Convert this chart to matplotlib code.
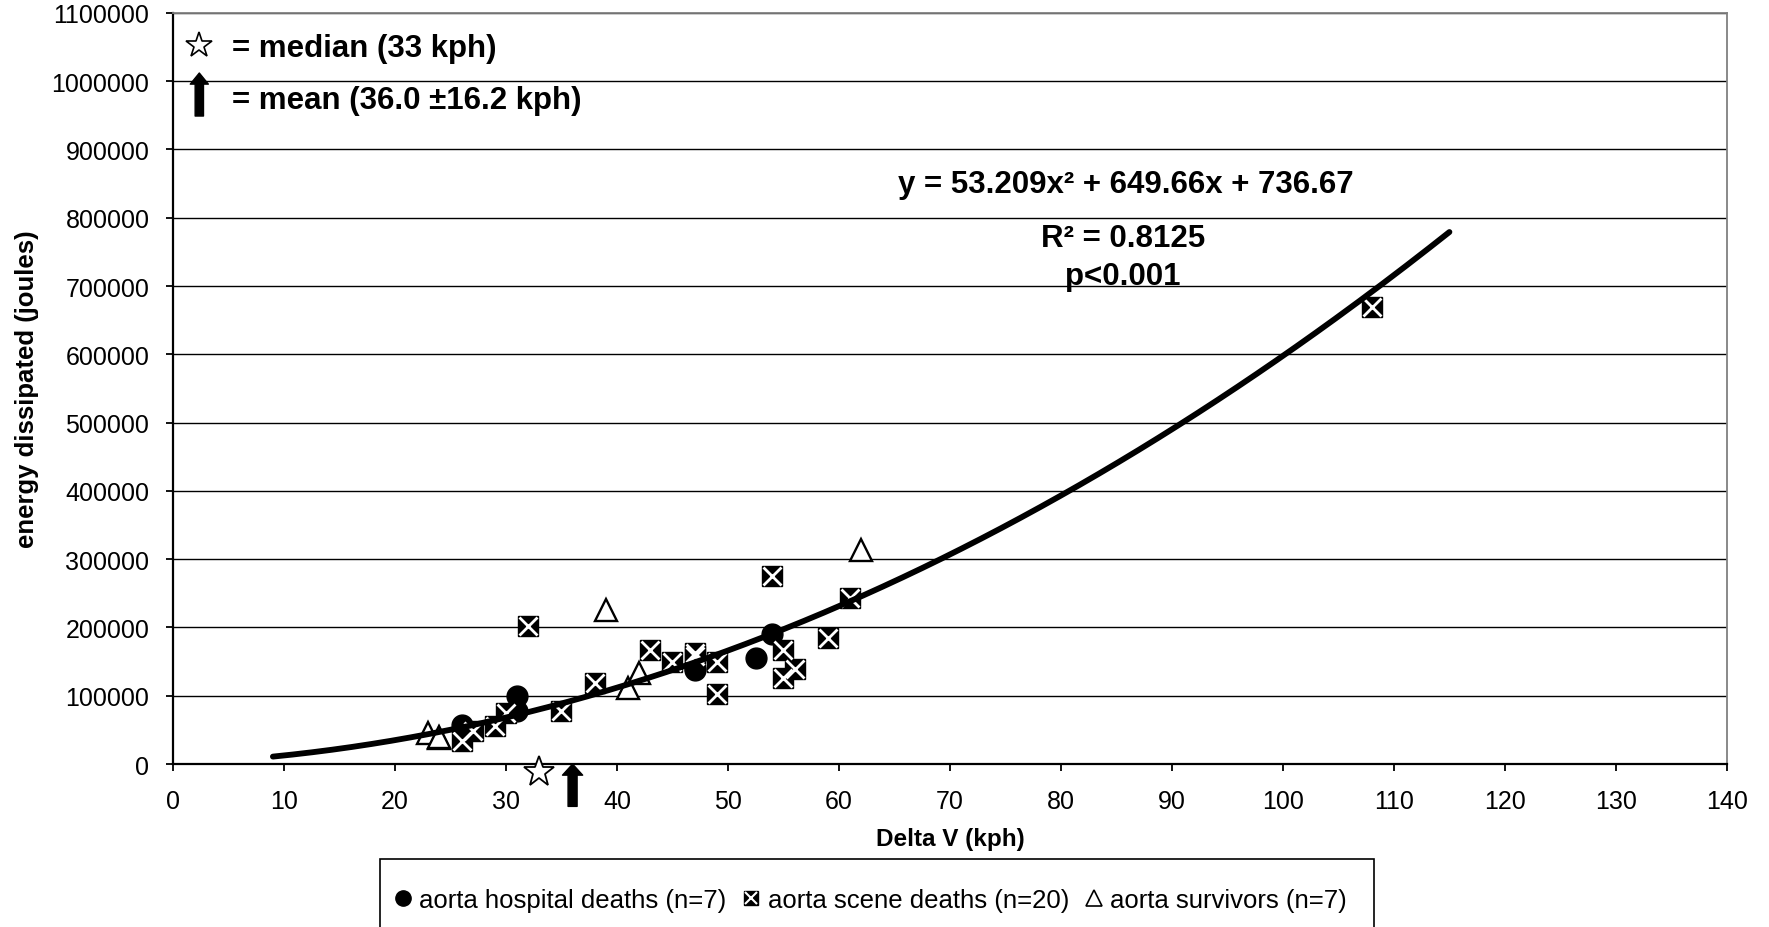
import numpy as np
import matplotlib
matplotlib.use("Agg")
import matplotlib.pyplot as plt
from matplotlib.lines import Line2D
from matplotlib.patches import Rectangle
from matplotlib.legend_handler import HandlerTuple

plt.rcParams['font.family'] = ['Liberation Sans', 'DejaVu Sans']

# --- data ---
hosp_x = [26, 31, 31, 47, 47, 52.5, 54]
hosp_y = [57000, 100000, 78000, 138000, 141000, 155000, 190000]

scene_x = [26, 27, 29, 30, 32, 35, 38, 43, 45, 47, 47, 49, 49, 54, 55, 55, 56, 59, 61, 108]
scene_y = [34000, 48000, 55000, 75000, 202000, 78000, 118000, 167000, 149000, 162000,
           158000, 149000, 102000, 276000, 167000, 126000, 139000, 185000, 243000, 670000]

surv_x = [23, 24, 24, 39, 41, 42, 62]
surv_y = [45000, 38000, 40000, 226000, 111000, 133000, 314000]

# trend line as printed on the chart
fit_coef = [53.209, 649.66, 736.67]
fit_range = (9, 115)

median_kph = 33
mean_kph = 36.0
mean_sd = 16.2

x_ticks = list(range(0, 141, 10))
y_ticks = list(range(0, 1100001, 100000))

legend_labels = ['aorta hospital deaths (n=7)', 'aorta scene deaths (n=20)', 'aorta survivors (n=7)']

fig = plt.figure(figsize=(17.69, 9.28), dpi=100)
ax = fig.add_axes([0.0978, 0.1756, 0.8784, 0.8094])

ax.set_xlim(0, 140)
ax.set_ylim(0, 1100000)
ax.set_xticks(x_ticks)
ax.set_yticks(y_ticks)
ax.set_yticklabels([str(v) for v in y_ticks])
ax.tick_params(axis='both', labelsize=18, direction='out', length=5, width=1.3, colors='black')
ax.tick_params(axis='y', pad=12)
ax.tick_params(axis='x', pad=13)

ax.set_axisbelow(True)
ax.yaxis.grid(True, color='black', linewidth=1.0)
ax.spines['left'].set_linewidth(1.6)
ax.spines['bottom'].set_linewidth(1.6)
ax.spines['top'].set_color('#808080')
ax.spines['right'].set_color('#808080')
ax.spines['top'].set_linewidth(1.3)
ax.spines['right'].set_linewidth(1.3)

# points
ax.plot(hosp_x, hosp_y, 'o', color='black', markersize=15, zorder=3)
ax.plot(scene_x, scene_y, 's', markerfacecolor='black', markeredgecolor='black',
        markersize=14, markeredgewidth=1, zorder=3)
ax.plot(scene_x, scene_y, 'x', color='white', markersize=12.5, markeredgewidth=2, zorder=3)
ax.plot(surv_x, surv_y, '^', markerfacecolor='white', markeredgecolor='black',
        markersize=16, markeredgewidth=1.7, zorder=3)

# quadratic trend line
xf = np.linspace(fit_range[0], fit_range[1], 300)
ax.plot(xf, np.polyval(fit_coef, xf), color='black', linewidth=4.2,
        solid_capstyle='round', zorder=5)

ax.text(85.8, 849000, 'y = 53.209x² + 649.66x + 736.67', ha='center', va='center',
        fontsize=22.5, fontweight='bold')
ax.text(85.6, 771000, 'R² = 0.8125', ha='center', va='center', fontsize=22.5, fontweight='bold')
ax.text(85.6, 715000, 'p<0.001', ha='center', va='center', fontsize=22.5, fontweight='bold')

# median star and mean arrow below the axis
ax.plot([median_kph], [-12000], marker='*', markersize=23, markerfacecolor='white',
        markeredgecolor='black', markeredgewidth=1.3, clip_on=False, zorder=6)
ax.annotate('', xy=(mean_kph, 0), xytext=(mean_kph, -62000), annotation_clip=False,
            arrowprops=dict(width=6.5, headwidth=14.5, headlength=8,
                            facecolor='black', edgecolor='black', shrink=0))

# key in the top left corner
ax.plot([2.3], [1053000], marker='*', markersize=19, markerfacecolor='white',
        markeredgecolor='black', markeredgewidth=1.2, zorder=6)
ax.annotate('', xy=(2.37, 1012000), xytext=(2.37, 949000),
            arrowprops=dict(width=6.0, headwidth=13, headlength=8,
                            facecolor='black', edgecolor='black', shrink=0))
ax.text(5.3, 1048000, '= median (%d kph)' % median_kph, ha='left', va='center',
        fontsize=22.5, fontweight='bold')
ax.text(5.3, 972000, '= mean (%.1f ±%.1f kph)' % (mean_kph, mean_sd), ha='left', va='center',
        fontsize=22.5, fontweight='bold')

ax.set_xlabel('Delta V (kph)', fontsize=17.5, fontweight='bold', labelpad=10)
ax.set_ylabel('energy dissipated (joules)', fontsize=18.5, fontweight='bold', labelpad=9)

# legend: frame drawn separately, it runs off the bottom edge
fig.patches.append(Rectangle((380 / 1769, -0.05), 994 / 1769, 0.05 + 1 - 860 / 928,
                             transform=fig.transFigure, fill=False, edgecolor='black',
                             linewidth=1.2))
h_hosp = Line2D([], [], marker='o', color='black', linestyle='none', markersize=11)
h_sq = Line2D([], [], marker='s', color='black', linestyle='none', markersize=10)
h_x = Line2D([], [], marker='x', color='white', linestyle='none', markersize=9, markeredgewidth=1.5)
h_tri = Line2D([], [], marker='^', markerfacecolor='white', markeredgecolor='black',
               linestyle='none', markersize=12, markeredgewidth=1.2)
leg = fig.legend([h_hosp, (h_sq, h_x), h_tri], legend_labels,
                 handler_map={tuple: HandlerTuple(ndivide=1)},
                 loc='center', bbox_to_anchor=(0.492, 1 - 901 / 928), ncol=3,
                 fontsize=18.5, frameon=False, handlelength=0.7, handletextpad=0.3,
                 columnspacing=0.6, borderaxespad=0, borderpad=0)

fig.savefig('out.png', dpi=100)
